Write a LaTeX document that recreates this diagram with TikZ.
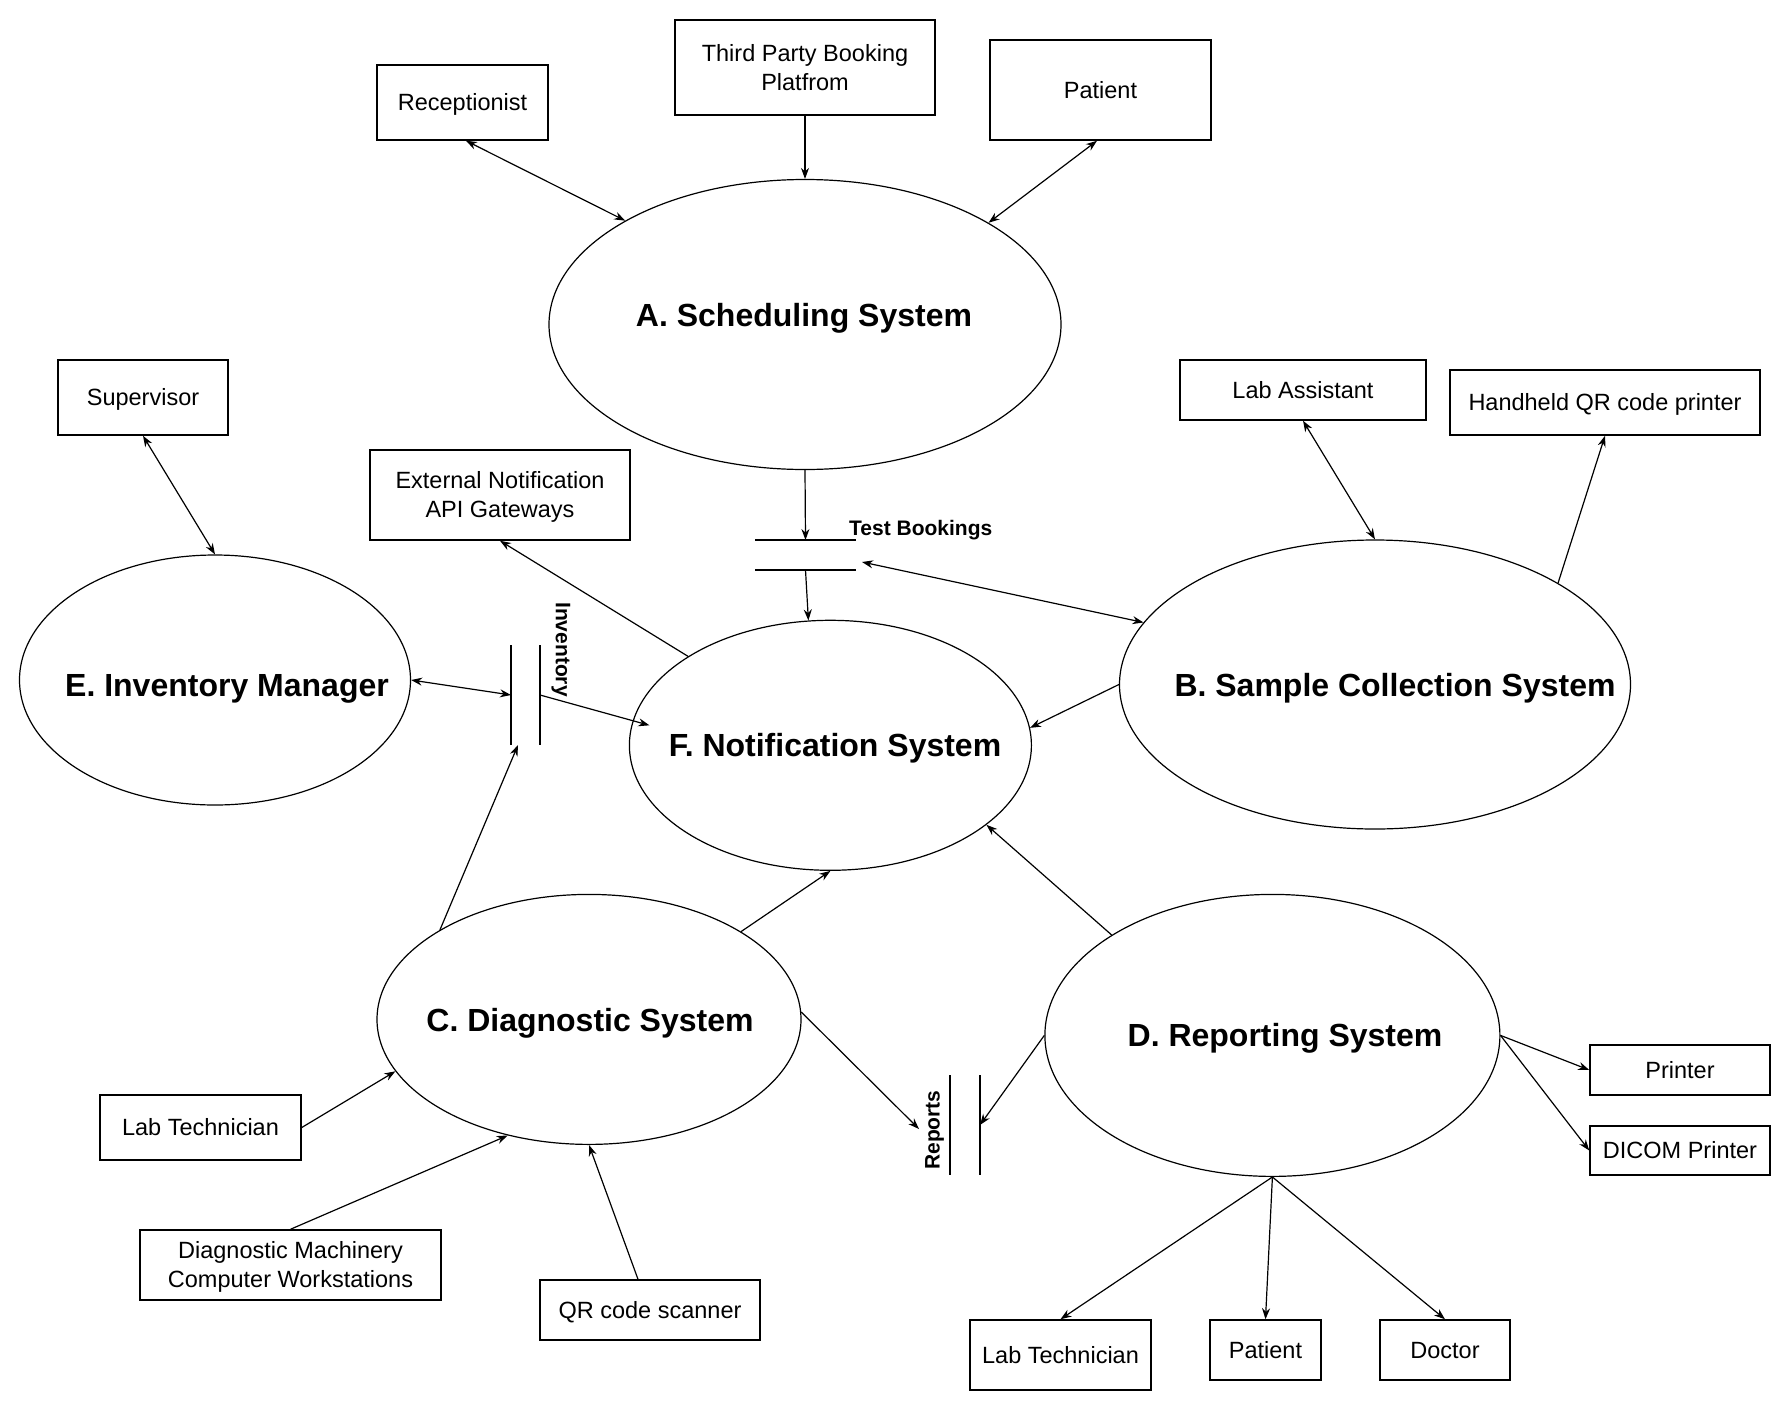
\documentclass[tikz,border=0pt]{standalone}
\usepackage{fontspec}
\setmainfont{Liberation Sans}
\usetikzlibrary{shapes.geometric,arrows.meta}
\tikzset{
    box/.style={draw, line width=1.5pt, inner sep=0pt, align=center, text height=16.8pt, text depth=0pt, font=\fontsize{23.5}{29}\selectfont},
    twolines/.style={text height=45.8pt},
    sys/.style={draw, ellipse, line width=1.2pt, inner sep=0pt},
    systitle/.style={inner sep=0pt, text height=22.9pt, text depth=0pt, font=\fontsize{32}{38}\selectfont\bfseries},
    store/.style={inner sep=0pt, outer sep=0pt},
    storeline/.style={line width=1.6pt},
    storelabel/.style={inner sep=0pt, font=\fontsize{21}{25}\selectfont\bfseries},
    flow/.style={line width=1.2pt, -{Stealth[length=11pt,width=8pt]}},
    biflow/.style={line width=1.2pt, {Stealth[length=11pt,width=8pt]}-{Stealth[length=11pt,width=8pt]}},
}
\begin{document}
\begin{tikzpicture}[x=1pt, y=-1pt]
\useasboundingbox (0,0) rectangle (1791,1411);

\node[sys, minimum width=512pt, minimum height=290pt] (A) at (805,324.5) {};
\node[sys, minimum width=511pt, minimum height=289pt] (B) at (1375,684.5) {};
\node[sys, minimum width=424pt, minimum height=250pt] (C) at (589,1019.4) {};
\node[sys, minimum width=455pt, minimum height=282pt] (D) at (1272.4,1035.4) {};
\node[sys, minimum width=391pt, minimum height=250pt] (E) at (215,680) {};
\node[sys, minimum width=402pt, minimum height=250pt] (F) at (830.4,745.3) {};

\node[systitle] (Atitle) at (804,315) {A. Scheduling System};
\node[systitle] (Btitle) at (1395,685) {B. Sample Collection System};
\node[systitle] (Ctitle) at (590,1020) {C. Diagnostic System};
\node[systitle] (Dtitle) at (1285,1035) {D. Reporting System};
\node[systitle] (Etitle) at (227,685) {E. Inventory Manager};
\node[systitle] (Ftitle) at (835,745) {F. Notification System};

\node[box, minimum width=171pt, minimum height=75pt] (rec) at (462.5,102.5) {Receptionist};
\node[box, twolines, minimum width=260pt, minimum height=95pt] (tpb) at (805,67.5) {Third Party Booking\\Platfrom};
\node[box, minimum width=221pt, minimum height=100pt] (pat1) at (1100.5,90) {Patient};
\node[box, minimum width=170pt, minimum height=75pt] (sup) at (143,397.5) {Supervisor};
\node[box, twolines, minimum width=260pt, minimum height=90pt] (ext) at (500,495) {External Notification\\API Gateways};
\node[box, minimum width=246pt, minimum height=60pt] (labas) at (1303,390) {Lab Assistant};
\node[box, minimum width=310pt, minimum height=65pt] (hh) at (1605,402.5) {Handheld QR code printer};
\node[box, minimum width=180pt, minimum height=50pt] (prn) at (1680,1070) {Printer};
\node[box, minimum width=180pt, minimum height=49pt] (dicom) at (1680,1150.5) {DICOM Printer};
\node[box, minimum width=201pt, minimum height=65pt] (lt1) at (200.5,1127.5) {Lab Technician};
\node[box, twolines, minimum width=301pt, minimum height=70pt] (dm) at (290.5,1265) {Diagnostic Machinery\\Computer Workstations};
\node[box, minimum width=220pt, minimum height=60pt] (qr) at (650,1310) {QR code scanner};
\node[box, minimum width=181pt, minimum height=70pt] (lt2) at (1060.5,1355) {Lab Technician};
\node[box, minimum width=111pt, minimum height=60pt] (pat2) at (1265.5,1350) {Patient};
\node[box, minimum width=130pt, minimum height=60pt] (doc) at (1445,1350) {Doctor};

\node[store, minimum width=101pt, minimum height=30pt] (tb) at (805.5,555) {};
\draw[storeline] (tb.north west) -- (tb.north east) (tb.south west) -- (tb.south east);
\node[storelabel, anchor=base west] (tblabel) at (849,535) {Test Bookings};

\node[store, minimum width=29pt, minimum height=100pt] (inv) at (525.5,695) {};
\draw[storeline] (inv.north west) -- (inv.south west) (inv.north east) -- (inv.south east);
\node[storelabel, rotate=-90] (invlabel) at (561,649.5) {Inventory};

\node[store, minimum width=30pt, minimum height=100pt] (rep) at (965,1125) {};
\draw[storeline] (rep.north west) -- (rep.south west) (rep.north east) -- (rep.south east);
\node[storelabel, rotate=90] (replabel) at (934.5,1130) {Reports};

\draw[biflow] ([xshift=3.5pt]rec.south) -- (A.150.5);
\draw[flow] (tpb.south) -- (A.north);
\draw[biflow] ([xshift=-3.5pt]pat1.south) -- (A.29.4);
\draw[flow] (A.south) -- (tb.north);
\draw[flow] (tb.south) -- (F.100.7);
\draw[biflow] ([xshift=6pt,yshift=-7pt]tb.east) -- (B.165.9);

\draw[biflow] (sup.south) -- (E.north);
\draw[biflow] (E.east) -- (inv.west);
\draw[flow] (inv.east) -- ([xshift=20.6pt,yshift=20pt]F.west);
\draw[flow] (C.149.3) -- ([xshift=7pt]inv.south west);
\draw[flow] (F.148.2) -- (ext.south);

\draw[biflow] (labas.south) -- (B.north);
\draw[flow] (B.29.6) -- (hh.south);
\draw[flow] (B.west) -- (F.5);

\draw[flow] (C.30.5) -- (F.south);
\draw[flow] (D.148.1) -- (F.-27.7);
\draw[flow] (C.2.3) -- ([xshift=-31pt,yshift=-4pt]rep.west);
\draw[flow] (D.west) -- (rep.east);

\draw[flow] (D.east) -- (prn.west);
\draw[flow] (D.east) -- (dicom.west);
\draw[flow] (D.south) -- (lt2.north);
\draw[flow] (D.south) -- (pat2.north);
\draw[flow] (D.south) -- (doc.north);

\draw[flow] (lt1.east) -- (C.195.3);
\draw[flow] (dm.north) -- (C.235.7);
\draw[flow] ([xshift=-12pt]qr.north) -- (C.south);
\end{tikzpicture}
\end{document}
